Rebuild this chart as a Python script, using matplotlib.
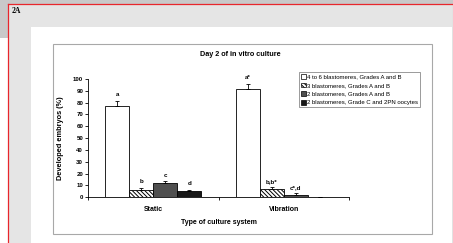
import matplotlib
matplotlib.use("Agg")
import matplotlib.pyplot as plt
from matplotlib.patches import Rectangle, Patch
import numpy as np

plt.rcParams['font.family'] = ['Liberation Sans', 'DejaVu Sans']
plt.rcParams['hatch.linewidth'] = 0.7

# data
systems = ['Static', 'Vibration']
series = ['4 to 6 blastomeres, Grades A and B',
          '3 blastomeres, Grades A and B',
          '2 blastomeres, Grades A and B',
          '2 blastomeres, Grade C and 2PN oocytes']
static_vals = [77.5, 6.5, 12.0, 5.0]
static_err = [4.0, 1.5, 1.8, 1.2]
vibration_vals = [91.5, 7.0, 2.2, 0.0]
vibration_err = [4.5, 1.5, 1.2, 0.0]
static_letters = ['a', 'b', 'c', 'd']
vibration_letters = ['a*', 'b,b*', 'c*,d', '']
yticks = list(range(0, 101, 10))

W, H = 453, 243
fig = plt.figure(figsize=(W / 100, H / 100), dpi=100)
fig.patch.set_facecolor('#e5e5e5')


def px(x, y, w, h):
    # pixel box (from top-left) -> figure fraction
    return [x / W, 1 - (y + h) / H, w / W, h / H]


# page background
bg = fig.add_axes([0, 0, 1, 1])
bg.set_xlim(0, W)
bg.set_ylim(H, 0)
bg.axis('off')
bg.add_patch(Rectangle((0, 0), W, 4, color='#c9c9c9', lw=0))
bg.add_patch(Rectangle((0, 0), 7.5, 38, color='#c9c9c9', lw=0))
bg.add_patch(Rectangle((0, 38), 7.5, H - 38, color='white', lw=0))
bg.add_patch(Rectangle((31, 27), W - 31, H - 27, color='white', lw=0))
bg.add_patch(Rectangle((451.5, 4), 1.5, H - 4, color='#e2e2e2', lw=0))
bg.plot([7.5, 7.5], [4, H], color='#e8262c', lw=0.9)
bg.plot([7.5, 451.5], [4, 4], color='#e8262c', lw=0.9)
bg.add_patch(Rectangle((53, 44), 379, 190, facecolor='white', edgecolor='#a8a8a8', lw=0.8))
bg.text(12, 11, '2A', family='Liberation Serif', weight='bold', fontsize=5.5, va='center')

fig.text(240 / W, 1 - 55 / H, 'Day 2 of in vitro culture', ha='center', va='center',
         fontsize=5.2, weight='bold')

ax = fig.add_axes(px(88, 79, 261, 118.3))
ax.set_facecolor('none')

colors = ['white', 'white', '#4f4f4f', '#181818']
hatches = [None, '\\\\\\\\\\\\\\\\', None, None]
w = 0.184
centers = np.arange(len(systems)) + 0.5

for i in range(len(series)):
    vals = [static_vals[i], vibration_vals[i]]
    errs = [static_err[i], vibration_err[i]]
    xs = centers + (i - 1.5) * w
    ax.bar(xs, vals, w, color=colors[i], edgecolor='black', lw=0.6, hatch=hatches[i], zorder=2)
    ax.errorbar(xs, vals, yerr=[[0, 0], errs], fmt='none', ecolor='black', elinewidth=0.6,
                capsize=1.6, capthick=0.6, zorder=3)
    for x, v, e, lab in zip(xs, vals, errs, [static_letters[i], vibration_letters[i]]):
        ax.annotate(lab, (x, v + e), xytext=(0, 2.5), textcoords='offset points',
                    ha='center', va='bottom', fontsize=4.5, weight='bold')

ax.set_xlim(0, 2)
ax.set_ylim(0, 100)
ax.set_yticks(yticks)
ax.set_yticklabels([str(t) for t in yticks], fontsize=4.4, weight='bold')
ax.set_xticks([0, 1, 2])
ax.set_xticklabels([])
ax.tick_params(axis='both', length=2, width=0.6, pad=1.5)
for s in ['top', 'right']:
    ax.spines[s].set_visible(False)
for s in ['left', 'bottom']:
    ax.spines[s].set_linewidth(0.6)

tr = ax.get_xaxis_transform()
for c, name in zip(centers, systems):
    ax.text(c, -0.099, name, transform=tr, ha='center', va='center', fontsize=5, weight='bold')
ax.text(1.0, -0.215, 'Type of culture system', transform=tr, ha='center', va='center',
        fontsize=5, weight='bold')
ax.set_ylabel('Developed embryos (%)', fontsize=5.3, weight='bold')
ax.yaxis.set_label_coords(-24 / 261, 0.5)

handles = [Patch(facecolor=colors[i], edgecolor='black', lw=0.5, hatch=hatches[i])
           for i in range(len(series))]
leg = ax.legend(handles, series, loc='upper left', bbox_to_anchor=(299 / W, 1 - 72 / H),
                bbox_transform=fig.transFigure, borderaxespad=0, fontsize=4.3,
                handlelength=0.8, handleheight=0.8, handletextpad=0.25, labelspacing=0.55,
                borderpad=0.35, fancybox=False, frameon=True)
leg.get_frame().set_edgecolor('#505050')
leg.get_frame().set_linewidth(0.5)

fig.savefig('out.png', dpi=100, facecolor=fig.get_facecolor())
